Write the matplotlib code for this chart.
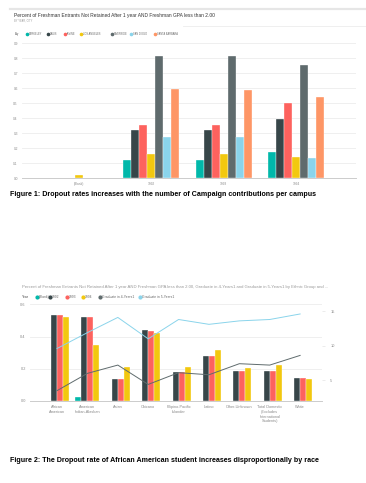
import numpy as np
import matplotlib.pyplot as plt
from matplotlib.lines import Line2D

plt.rcParams["font.family"] = ["Liberation Sans", "DejaVu Sans"]

W, H = 366, 483

# Figure 1 data: share not retained, by year and campus
years = ["(Blank)", "1992", "1993", "1994"]
campuses = ["BERKELEY", "DAVIS", "IRVINE", "LOS ANGELES", "RIVERSIDE", "SAN DIEGO", "SANTA BARBARA"]
berkeley = [np.nan, 0.12, 0.12, 0.175]
davis = [np.nan, 0.32, 0.32, 0.395]
irvine = [np.nan, 0.355, 0.355, 0.50]
los_angeles = [0.02, 0.165, 0.165, 0.14]
riverside = [np.nan, 0.815, 0.815, 0.755]
san_diego = [np.nan, 0.275, 0.275, 0.135]
santa_barbara = [np.nan, 0.595, 0.59, 0.54]
top_ticks = [0.0, 0.1, 0.2, 0.3, 0.4, 0.5, 0.6, 0.7, 0.8, 0.9]

# Figure 2 data: by ethnic group
groups = ["African\nAmerican", "American\nIndian-Alaskan", "Asian", "Chicano",
          "Filipino-Pacific\nIslander", "Latino", "Other-Unknown",
          "Total Domestic\n(Excludes\nInternational\nStudents)", "White"]
series_names = ["(Blank)", "1992", "1993", "1994"]
blank = [np.nan, 0.025, np.nan, np.nan, np.nan, np.nan, np.nan, np.nan, np.nan]
y1992 = [0.536, 0.524, 0.135, 0.44, 0.178, 0.28, 0.189, 0.189, 0.144]
y1993 = [0.536, 0.524, 0.135, 0.435, 0.178, 0.28, 0.189, 0.189, 0.144]
y1994 = [0.524, 0.348, 0.21, 0.42, 0.213, 0.318, 0.206, 0.224, 0.137]
grad4 = [3.5, 6.0, 7.2, 4.4, 6.1, 5.8, 7.4, 7.2, 8.6]
grad5 = [9.6, 11.9, 14.1, 11.0, 13.8, 13.1, 13.6, 13.8, 14.6]
left_ticks = [0.0, 0.2, 0.4, 0.6]
right_ticks = [5, 10, 15]

# Power BI palette
teal, dark, red, yellow = "#01B8AA", "#374649", "#FD625E", "#F2C80F"
gray, lblue, orange = "#5F6B6D", "#8AD4EB", "#FE9666"
campus_colors = [teal, dark, red, yellow, gray, lblue, orange]
year_colors = [teal, dark, red, yellow]

TICK_C = "#8a8a8a"
GRID_C = "#ececec"


def fx(x):
    return x / W


def fy(y):
    return 1 - y / H


def legend_row(fig, y, title, labels, colors, xs, fs, ms):
    fig.text(fx(xs[0] - 12 if title == "City" else xs[0] - 15), fy(y), title,
             fontsize=fs, color="#444444", va="center")
    for x, lab, c in zip(xs, labels, colors):
        fig.add_artist(Line2D([fx(x)], [fy(y)], marker="o", ms=ms, color=c,
                              lw=0, transform=fig.transFigure))
        fig.text(fx(x + 1.8), fy(y), lab, fontsize=fs, color="#666666", va="center")


fig = plt.figure(figsize=(W / 100, H / 100), dpi=100)

# ---------------- Figure 1 ----------------
fig.add_artist(Line2D([fx(10), fx(366)], [fy(8.5), fy(8.5)], color="#e6e6e6", lw=1.6,
                      transform=fig.transFigure))
fig.add_artist(Line2D([fx(183), fx(366)], [fy(26), fy(26)], color="#ececec", lw=0.6,
                      transform=fig.transFigure))
fig.text(fx(14), fy(15), "Percent of Freshman Entrants Not Retained After 1 year AND Freshman GPA less than 2.00",
         fontsize=3.5, color="#333333", va="center")
fig.text(fx(14), fy(21), "BY YEAR, CITY", fontsize=1.8, color="#999999", va="center")
legend_row(fig, 34, "City", campuses, campus_colors,
           [26.7, 48.3, 65.3, 81, 111.7, 131, 155], 1.8, 1.6)

ax1 = fig.add_axes([fx(22), fy(178.3), (356 - 22) / W, (178.3 - 43.3) / H])
x = np.arange(len(years))
bw = 0.111
top_series = [berkeley, davis, irvine, los_angeles, riverside, san_diego, santa_barbara]
for i, (vals, c) in enumerate(zip(top_series, campus_colors)):
    ax1.bar(x + (i - 3) * bw, vals, width=bw, color=c, edgecolor="white", linewidth=0.25)
ax1.set_xlim(-0.79, 3.83)
ax1.set_ylim(0, 0.9)
ax1.set_yticks(top_ticks)
ax1.set_yticklabels([f"{t:.1f}" for t in top_ticks])
ax1.set_xticks(x)
ax1.set_xticklabels(years)
ax1.tick_params(length=0, labelsize=2.3, colors=TICK_C, pad=3)
ax1.grid(axis="y", color=GRID_C, lw=0.6)
ax1.set_axisbelow(True)
for s in ["top", "right", "left"]:
    ax1.spines[s].set_visible(False)
ax1.spines["bottom"].set_color("#cccccc")
ax1.spines["bottom"].set_linewidth(0.7)

fig.text(fx(10), fy(194), "Figure 1: Dropout rates increases with the number of Campaign contributions per campus",
         fontsize=5.1, fontweight="bold", color="black", va="center")

# ---------------- Figure 2 ----------------
fig.text(fx(22), fy(287.3),
         "Percent of Freshman Entrants Not Retained After 1 year AND Freshman GPA less than 2.00, "
         "Graduate in 4-Years1 and Graduate in 5-Years1 by Ethnic Group and ...",
         fontsize=3.05, color="#999999", va="center")
legend_row(fig, 297, "Year", series_names + ["Graduate in 4-Years1", "Graduate in 5-Years1"],
           year_colors + [gray, lblue], [37.3, 50, 66.7, 83.3, 100, 140], 2.4, 2.0)

ax2 = fig.add_axes([fx(30), fy(401), (322 - 30) / W, (401 - 304.3) / H])
g = np.arange(len(groups))
bw2 = 0.197
for i, (vals, c) in enumerate(zip([blank, y1992, y1993, y1994], year_colors)):
    ax2.bar(g + (i - 1.5) * bw2, vals, width=bw2, color=c, edgecolor="white", linewidth=0.25)
ax2.set_xlim(-0.89, 8.72)
ax2.set_ylim(0, 0.6)
ax2.set_yticks(left_ticks)
ax2.set_yticklabels([f"{t:.1f}" for t in left_ticks])
ax2.set_xticks(g)
ax2.set_xticklabels(groups, linespacing=1.25)
ax2.tick_params(length=0, labelsize=2.8, colors=TICK_C, pad=3)
ax2.grid(axis="y", color=GRID_C, lw=0.6)
ax2.set_axisbelow(True)
for s in ["top", "right", "left"]:
    ax2.spines[s].set_visible(False)
ax2.spines["bottom"].set_color("#cccccc")
ax2.spines["bottom"].set_linewidth(0.7)

ax3 = ax2.twinx()
ax3.plot(g, grad4, color=gray, lw=0.7)
ax3.plot(g, grad5, color=lblue, lw=0.7)
ax3.set_ylim(2, 16)
ax3.set_yticks(right_ticks)
ax3.tick_params(length=2, width=0.4, color="#dddddd", labelsize=2.8, labelcolor=TICK_C, pad=4)
for s in ["top", "right", "left", "bottom"]:
    ax3.spines[s].set_visible(False)

fig.text(fx(10), fy(461), "Figure 2: The Dropout rate of African American student increases disproportionally by race",
         fontsize=5.1, fontweight="bold", color="black", va="center")

fig.savefig("out.png", dpi=100)
